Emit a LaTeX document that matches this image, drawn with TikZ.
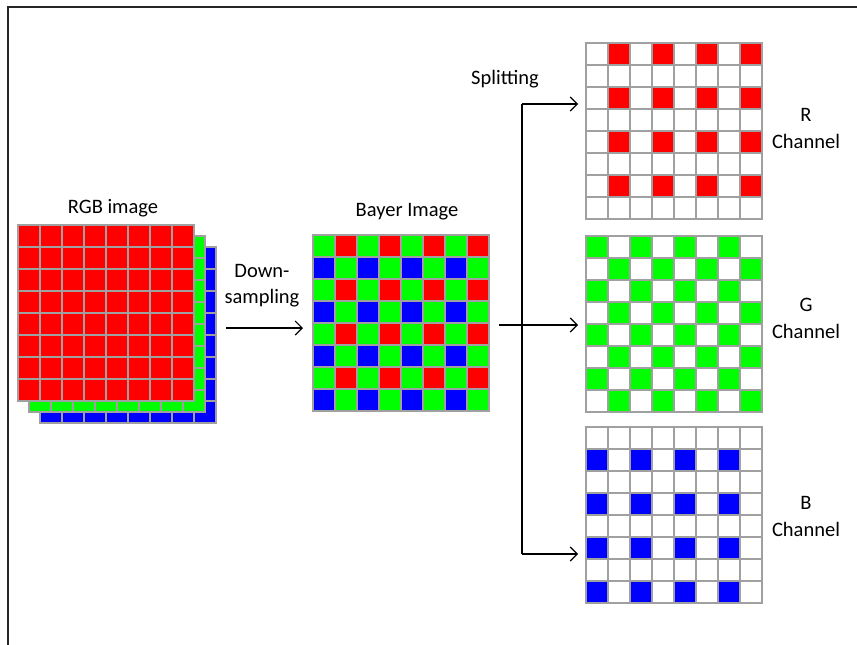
\documentclass[tikz,border=0pt]{standalone}
\usepackage{fontspec}
\setmainfont{Carlito}
\usetikzlibrary{arrows.meta}
\definecolor{cellgray}{RGB}{160,160,160}
\colorlet{c0}{white}
\definecolor{c1}{RGB}{255,0,0}
\definecolor{c2}{RGB}{0,255,0}
\definecolor{c3}{RGB}{0,0,255}
\tikzset{
  cellbox/.style={draw=cellgray, line width=1.6pt},
  lbl/.style={font=\fontsize{20.5}{24}\selectfont, align=center, inner sep=0pt},
  conn/.style={line width=1.1pt, black},
  arr/.style={conn, -{Straight Barb[length=7pt,width=14pt,line width=1.1pt]}},
  frame/.style={line width=1.2pt, black!85}
}
% \mygrid{x0}{y0}{pgfmath expression of \i,\j giving colour code}
\newcommand{\mygrid}[3]{%
  \foreach \i in {0,...,7}{%
    \foreach \j in {0,...,7}{%
      \pgfmathtruncatemacro{\cc}{#3}%
      \draw[cellbox, fill=c\cc] ({#1+22*\i},{#2+22*\j}) rectangle ++(22,22);
    }%
  }%
}
\begin{document}
\begin{tikzpicture}[x=1pt,y=-1pt]
\useasboundingbox (0,0) rectangle (857,645);
% frame
\draw[frame] (857,7) -- (8,7) -- (8,645);

% RGB stack
\mygrid{40}{247}{3}
\mygrid{29}{236}{2}
\mygrid{18}{225}{1}
\node[lbl] (rgbl) at (113,208) {RGB image};

% Bayer
\mygrid{313}{235}{(mod(\j,2)==0) ? ((mod(\i,2)==0) ? 2 : 1) : ((mod(\i,2)==0) ? 3 : 2)}
\node[lbl] (bayl) at (407,212) {Bayer Image};

% channels
\mygrid{586}{43}{((mod(\j,2)==0) && (mod(\i,2)==1)) ? 1 : 0}
\mygrid{586}{236}{(mod(\i+\j,2)==0) ? 2 : 0}
\mygrid{586}{427}{((mod(\j,2)==1) && (mod(\i,2)==0)) ? 3 : 0}

\node[lbl] (rl) at (806,128) {R\\[3pt]Channel};
\node[lbl] (gl) at (806,318) {G\\[3pt]Channel};
\node[lbl] (bl) at (806,516) {B\\[3pt]Channel};

% down-sampling
\node[lbl] (dsl) at (262,286) {Down-\\[2pt]sampling};
\coordinate (rgbR) at (226,328);
\coordinate (bayL) at (303,328);
\draw[arr] (rgbR) -- (bayL);

% splitting
\node[lbl] (spl) at (505,79) {Splitting};
\coordinate (bayR) at (499,325);
\coordinate (gIn) at (578,325);
\coordinate (top) at (522,104);
\coordinate (bot) at (522,554);
\coordinate (rIn) at (578,104);
\coordinate (bIn) at (578,554);
\draw[arr] (bayR) -- (gIn);
\draw[conn] (top) -- (bot);
\draw[arr] (top) -- (rIn);
\draw[arr] (bot) -- (bIn);
\end{tikzpicture}
\end{document}
